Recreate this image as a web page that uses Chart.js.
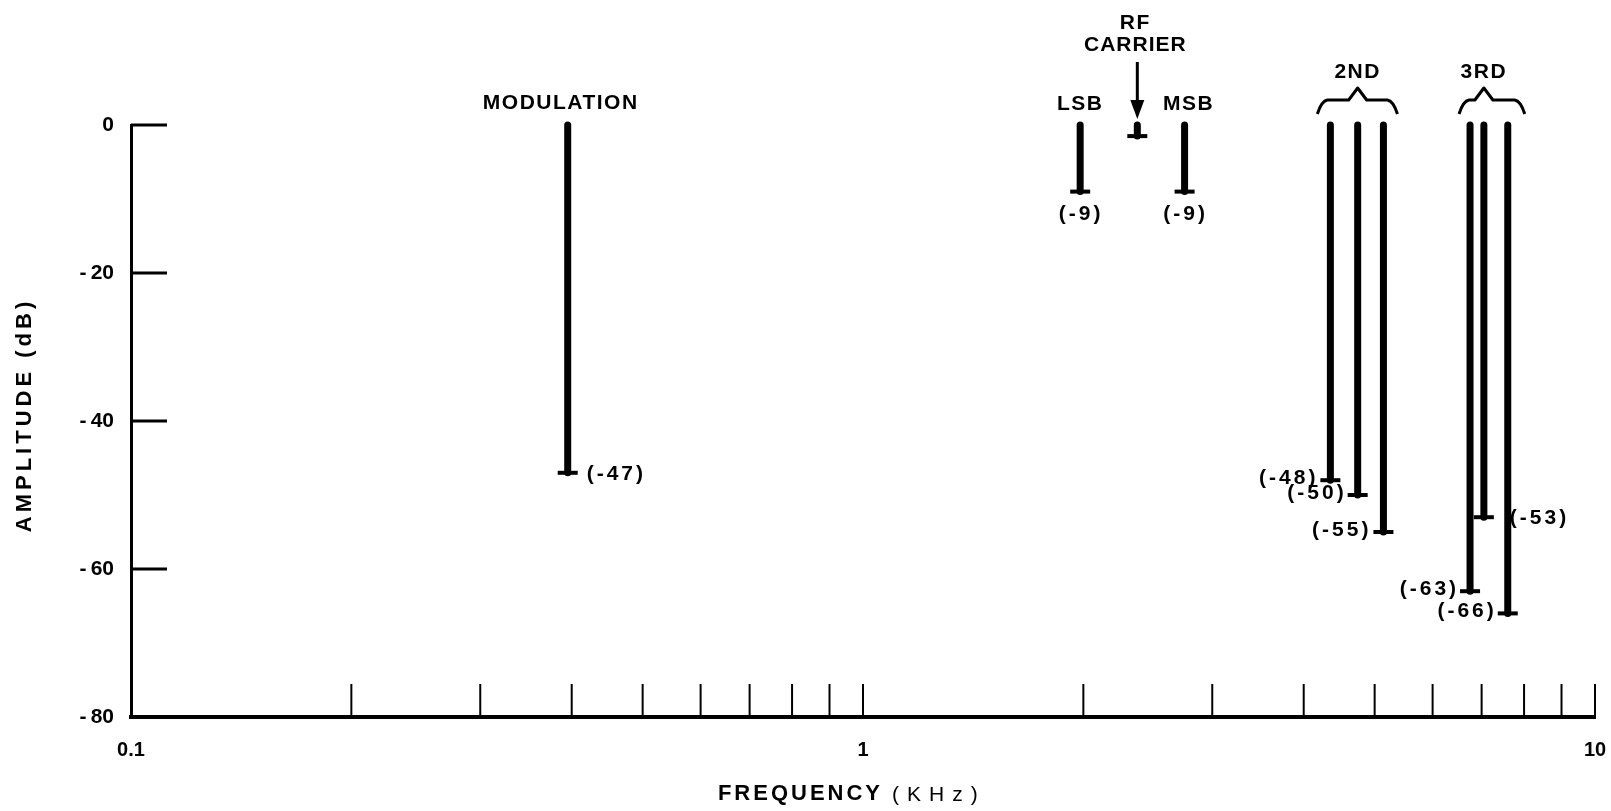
<!DOCTYPE html>
<html>
<head>
<meta charset="utf-8">
<title>Spectrum</title>
<script src="https://cdn.jsdelivr.net/npm/chart.js@4.4.1/dist/chart.umd.min.js"></script>
<style>
  html, body { margin: 0; padding: 0; background: #fff; }
  #grafico { display: block; }
</style>
</head>
<body>
<canvas id="grafico" width="1611" height="811"></canvas>
<script>
// spectral lines
const freqKHz = [0.395, 1.98, 2.37, 2.75, 4.35, 4.74, 5.14, 6.75, 7.05, 7.6];
const levelDb = [-47, -9, -1.5, -9, -48, -50, -55, -63, -53, -66];
const levelText = ['(-47)', '(-9)', '', '(-9)', '(-48)', '(-50)', '(-55)', '(-63)', '(-53)', '(-66)'];

// axis ticks
const yTicks = [0, -20, -40, -60, -80];
const xTickLabels = [0.1, 1, 10];
const xMinorTicks = [0.2, 0.3, 0.4, 0.5, 0.6, 0.7, 0.8, 0.9, 1, 2, 3, 4, 5, 6, 7, 8, 9, 10];

const FONT = "'Liberation Sans', Arial, sans-serif";

document.addEventListener('DOMContentLoaded', function () {
  const canvas = document.getElementById('grafico');
  const ctx = canvas.getContext('2d');

  // where each value label goes relative to the bottom of its line
  const labelPlacement = [
    { side: 'right', dx: 19 },
    { side: 'below', dy: 23 },
    null,
    { side: 'below', dy: 23 },
    { side: 'left', dx: 15 },
    { side: 'left', dx: 14 },
    { side: 'left', dx: 15 },
    { side: 'left', dx: 14 },
    { side: 'right', dx: 26 },
    { side: 'left', dx: 14 }
  ];

  function texto(str, x, y, opts) {
    ctx.save();
    ctx.font = (opts.weight || 'bold') + ' ' + opts.size + 'px ' + FONT;
    ctx.letterSpacing = (opts.spacing || 0) + 'px';
    ctx.fillStyle = '#000';
    ctx.textAlign = opts.align || 'center';
    ctx.textBaseline = 'middle';
    ctx.fillText(str, x, y);
    ctx.restore();
  }

  function llave(x1, cx, x2, yFlat) {
    ctx.beginPath();
    ctx.moveTo(x1, yFlat + 14);
    ctx.quadraticCurveTo(x1 + 4, yFlat + 1, x1 + 10, yFlat);
    ctx.lineTo(cx - 9, yFlat);
    ctx.lineTo(cx, yFlat - 12);
    ctx.lineTo(cx + 9, yFlat);
    ctx.lineTo(x2 - 10, yFlat);
    ctx.quadraticCurveTo(x2 - 4, yFlat + 1, x2, yFlat + 14);
    ctx.stroke();
  }

  const anotaciones = {
    id: 'anotaciones',
    afterDatasetsDraw(chart) {
      const xs = chart.scales.x;
      const ys = chart.scales.y;
      const area = chart.chartArea;
      const top = ys.getPixelForValue(0);
      const px = freqKHz.map(f => xs.getPixelForValue(f));

      ctx.save();
      ctx.strokeStyle = '#000';
      ctx.lineCap = 'butt';

      // inward ticks on the y axis
      ctx.lineWidth = 3;
      yTicks.forEach(v => {
        if (v === -80) return;
        const y = ys.getPixelForValue(v);
        ctx.beginPath();
        ctx.moveTo(area.left, y);
        ctx.lineTo(area.left + 36, y);
        ctx.stroke();
      });

      // inward ticks on the frequency axis
      ctx.lineWidth = 2;
      xMinorTicks.forEach(v => {
        const x = xs.getPixelForValue(v);
        ctx.beginPath();
        ctx.moveTo(x, area.bottom);
        ctx.lineTo(x, area.bottom - 33);
        ctx.stroke();
      });

      // value labels
      levelDb.forEach((v, i) => {
        const p = labelPlacement[i];
        if (!p || !levelText[i]) return;
        const y = ys.getPixelForValue(v);
        if (p.side === 'right') texto(levelText[i], px[i] + p.dx, y + 1, { size: 21, spacing: 3, align: 'left' });
        if (p.side === 'left') texto(levelText[i], px[i] - p.dx + 3, y - 2, { size: 21, spacing: 3, align: 'right' });
        if (p.side === 'below') texto(levelText[i], px[i] + 1, y + p.dy, { size: 21, spacing: 3 });
      });

      // group names
      texto('MODULATION', px[0] - 7, top - 22, { size: 21, spacing: 1.5 });
      texto('LSB', px[1], top - 21, { size: 21, spacing: 1.5 });
      texto('MSB', px[3] + 4, top - 21, { size: 21, spacing: 1.5 });
      texto('RF', px[2] - 2, top - 102, { size: 21, spacing: 1.5 });
      texto('CARRIER', px[2] - 2, top - 80, { size: 21, spacing: 1 });
      texto('2ND', px[5], top - 53, { size: 21, spacing: 1.5 });
      texto('3RD', px[8], top - 53, { size: 21, spacing: 1.5 });

      // arrow to the carrier
      ctx.lineWidth = 3;
      ctx.beginPath();
      ctx.moveTo(px[2], top - 63);
      ctx.lineTo(px[2], top - 22);
      ctx.stroke();
      ctx.beginPath();
      ctx.moveTo(px[2] - 7, top - 25);
      ctx.lineTo(px[2] + 7, top - 25);
      ctx.lineTo(px[2], top - 6);
      ctx.closePath();
      ctx.fill();

      // braces over the harmonics
      ctx.lineWidth = 3;
      ctx.lineJoin = 'round';
      llave(px[4] - 13, px[5], px[6] + 14, top - 25);
      llave(px[7] - 11, px[8], px[9] + 17, top - 25);

      // axis titles
      texto('FREQUENCY', 883, 794, { size: 22, spacing: 3, align: 'right' });
      texto('(KHz)', 892, 795, { size: 21, spacing: 8, align: 'left', weight: 'normal' });
      ctx.save();
      ctx.translate(25, 415);
      ctx.rotate(-Math.PI / 2);
      texto('AMPLITUDE (dB)', 0, 0, { size: 22, spacing: 4 });
      ctx.restore();

      ctx.restore();
    }
  };

  const datasets = freqKHz.map((f, i) => ({
    data: [{ x: f, y: 0 }, { x: f, y: levelDb[i] }],
    showLine: true,
    borderColor: '#000',
    backgroundColor: '#000',
    borderWidth: 7,
    borderCapStyle: 'round',
    pointStyle: 'line',
    pointRadius: [0, 10],
    pointBorderWidth: 4,
    pointBorderColor: '#000',
    clip: false
  }));

  new Chart(ctx, {
    type: 'scatter',
    data: { datasets: datasets },
    options: {
      responsive: false,
      animation: false,
      events: [],
      layout: { padding: { top: 125, right: 16, left: 0, bottom: 0 } },
      plugins: { legend: { display: false }, tooltip: { enabled: false } },
      scales: {
        x: {
          type: 'logarithmic',
          min: 0.1,
          max: 10,
          afterFit: s => {
            s.height = 94;
            s.paddingLeft = 0;
            s.paddingRight = 0;
          },
          afterBuildTicks: s => { s.ticks = xTickLabels.map(v => ({ value: v })); },
          grid: { display: false, drawTicks: false },
          border: { display: true, color: '#000', width: 4 },
          ticks: {
            autoSkip: false,
            maxRotation: 0,
            padding: 21,
            color: '#000',
            font: { family: FONT, size: 20, weight: 'bold' },
            callback: v => String(v)
          }
        },
        y: {
          type: 'linear',
          min: -80,
          max: 0,
          afterFit: s => {
            s.width = 131;
            s.paddingTop = 0;
            s.paddingBottom = 0;
          },
          afterBuildTicks: s => { s.ticks = yTicks.map(v => ({ value: v })); },
          grid: { display: false, drawTicks: false },
          border: { display: true, color: '#000', width: 3 },
          ticks: {
            padding: 17,
            color: '#000',
            font: { family: FONT, size: 21, weight: 'bold' },
            callback: v => (v < 0 ? '-\u2009' + Math.abs(v) : String(v))
          }
        }
      }
    },
    plugins: [anotaciones]
  });
});
</script>
</body>
</html>
